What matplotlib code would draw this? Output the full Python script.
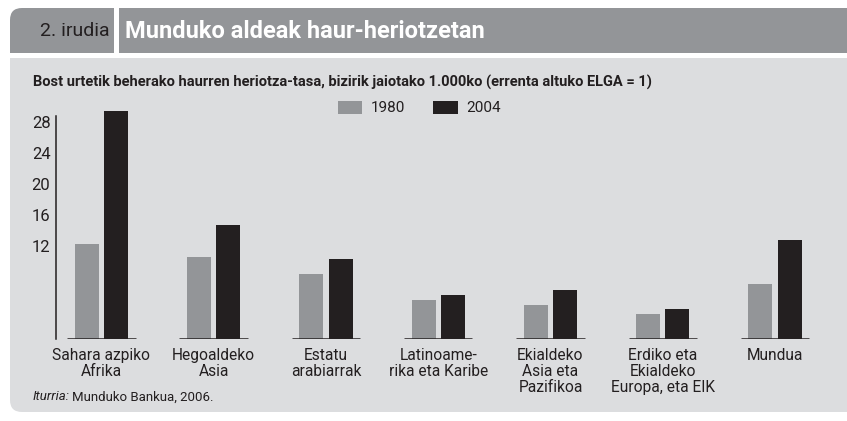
import matplotlib
matplotlib.use('Agg')
import matplotlib.pyplot as plt
from matplotlib.patches import FancyBboxPatch, Rectangle
import numpy as np

plt.rcParams['font.family'] = ['Roboto', 'DejaVu Sans']

# data (under-5 mortality ratio, high-income OECD = 1)
regions = ['Sahara azpiko\nAfrika', 'Hegoaldeko\nAsia', 'Estatu\narabiarrak',
           'Latinoame-\nrika eta Karibe', 'Ekialdeko\nAsia eta\nPazifikoa',
           'Erdiko eta\nEkialdeko\nEuropa, eta EIK', 'Mundua']
v1980 = [12.3, 10.6, 8.4, 5.0, 4.4, 3.2, 7.1]
v2004 = [29.4, 14.7, 10.3, 5.7, 6.3, 3.9, 12.8]
yticks = [12, 16, 20, 24, 28]

HEAD = '#939598'
PANEL = '#dcdddf'
DARK = '#231f20'
W, H = 847, 421

fig = plt.figure(figsize=(W / 100, H / 100), dpi=100)
fig.patch.set_facecolor('white')

# background axes in pixel coordinates
bg = fig.add_axes([0, 0, 1, 1])
bg.set_xlim(0, W)
bg.set_ylim(H, 0)
bg.axis('off')

# header band, rounded top-left
bg.add_patch(FancyBboxPatch((10, 8), 860, 45, boxstyle='round,pad=0,rounding_size=12',
                            fc=HEAD, ec='none'))
bg.add_patch(Rectangle((10, 30), 860, 23, fc=HEAD, ec='none'))
bg.add_patch(Rectangle((114, 6), 5, 49, fc='white', ec='none'))
# light panel, rounded bottom-left
bg.add_patch(FancyBboxPatch((10, 58), 860, 354, boxstyle='round,pad=0,rounding_size=12',
                            fc=PANEL, ec='none'))
bg.add_patch(Rectangle((10, 58), 860, 100, fc=PANEL, ec='none'))

bg.text(40, 31, '2. irudia', fontsize=14, color=DARK, va='center', ha='left')
bg.text(125, 31, 'Munduko aldeak haur-heriotzetan', fontsize=17, fontweight='bold',
        color='white', va='center', ha='left')
bg.text(33, 82, 'Bost urtetik beherako haurren heriotza-tasa, bizirik jaiotako 1.000ko '
        '(errenta altuko ELGA = 1)', fontsize=10.5, fontweight='bold', color=DARK,
        va='center', ha='left')

t = bg.text(33, 397, 'Iturria:', fontsize=9.5, style='italic', color=DARK, va='center', ha='left')
fig.canvas.draw()
ext = t.get_window_extent()
x_end = bg.transData.inverted().transform((ext.x1, ext.y0))[0]
bg.text(x_end + 2, 397, 'Munduko Bankua, 2006.', fontsize=9.5, color=DARK,
        va='center', ha='left')

# chart axes: 7.75 px per unit, zero at y=339 px
x0, x_right, y_base, y_top = 56, 830, 339, 106.5
ax = fig.add_axes([x0 / W, (H - y_base) / H, (x_right - x0) / W, (y_base - y_top) / H])
ax.patch.set_alpha(0)
ax.set_xlim(-0.405, 6.49)
ax.set_ylim(0, 30)

x = np.arange(len(regions))
ax.bar(x - 0.13, v1980, 0.214, color=HEAD, label='1980')
ax.bar(x + 0.13, v2004, 0.214, color=DARK, label='2004')
ax.hlines(np.zeros(len(x)), x - 0.305, x + 0.305, color=DARK, lw=1.8)

for s in ['top', 'right', 'bottom']:
    ax.spines[s].set_visible(False)
ax.spines['left'].set_color(DARK)
ax.spines['left'].set_linewidth(1.1)
ax.spines['left'].set_bounds(0, 28.8)
ax.set_yticks(yticks)
ax.tick_params(axis='y', length=0, pad=4, labelsize=12, labelcolor=DARK)
ax.set_xticks(x)
ax.set_xticklabels(regions, fontsize=11.2, color=DARK, linespacing=1.1)
ax.tick_params(axis='x', length=0, pad=6.5)

ax.legend(ncol=2, frameon=False, loc='center', bbox_to_anchor=(419.5, 108),
          bbox_transform=bg.transData, fontsize=11, handlelength=1.6, handleheight=0.95,
          handletextpad=0.6, columnspacing=1.8, borderpad=0, labelcolor=DARK)

fig.savefig('out.png', dpi=100, facecolor='white')
